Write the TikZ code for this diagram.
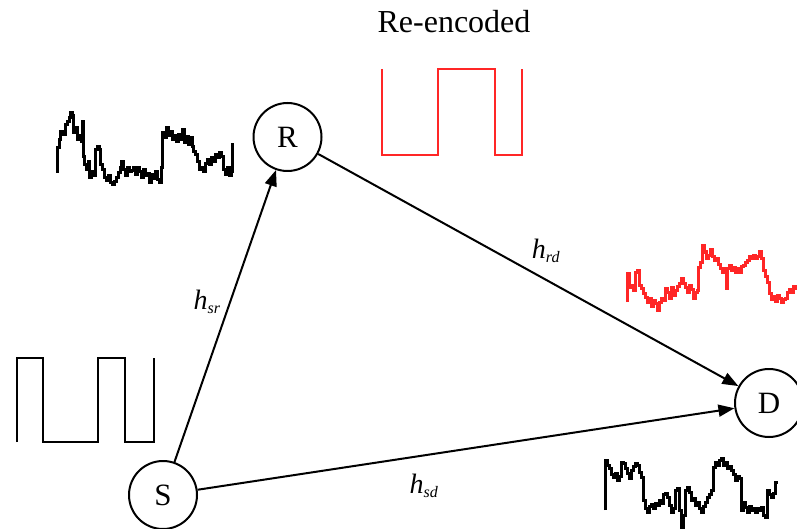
\documentclass[tikz,border=0pt]{standalone}
\usepackage{fontspec}
\setmainfont{Liberation Serif}
\usetikzlibrary{arrows.meta}
\begin{document}
\begin{tikzpicture}[x=1pt,y=-1pt,
  nd/.style={circle,draw,line width=2pt,minimum size=68pt,inner sep=0pt,font=\fontsize{31}{31}\selectfont},
  arr/.style={line width=2pt,-{Triangle[length=16pt,width=12pt]}},
  sq/.style={line width=1.8pt,line join=miter},
  sig/.style={line width=3pt,line join=miter},
  lab/.style={font=\fontsize{28}{28}\selectfont\itshape}]
\useasboundingbox (0,0) rectangle (797,529);
\node[nd] (R) at (287.5,137) {R};
\node[nd] (S) at (163,495) {S};
\node[nd] (D) at (769,403) {D};
\draw[arr] (S) -- (R);
\draw[arr] (R) -- (D);
\draw[arr] (S) -- (D);
\node[lab] (hsr) at (207,302) {h\textsubscript{\fontsize{16}{16}\selectfont sr}};
\node[lab] (hrd) at (546,251) {h\textsubscript{\fontsize{16}{16}\selectfont rd}};
\node[lab] (hsd) at (424,486) {h\textsubscript{\fontsize{16}{16}\selectfont sd}};
\node[font=\fontsize{32}{32}\selectfont] (re) at (454,22) {Re-encoded};
% black square wave
\draw[sq] (17,442) -- (17,358) -- (43,358) -- (43,442) -- (98,442) -- (98,358) -- (125,358) -- (125,442) -- (154,442) -- (154,358);
% red square wave
\draw[sq,red!85!white] (382,69) -- (382,155) -- (438,155) -- (438,69) -- (495,69) -- (495,155) -- (522,155) -- (522,69);
% black noisy top-left
\draw[sig] plot[const plot] coordinates {(57,173) (57,148) (59,140) (60,132) (63,135) (65,125) (67,122) (69,118) (70,113) (72,116) (73,133) (75,128) (77,140) (79,136) (81,142) (82,122) (83,157) (84,165) (86,170) (88,162) (89,178) (91,172) (93,176) (95,150) (97,147) (99,150) (100,165) (102,170) (104,178) (106,181) (108,176) (110,183) (112,185) (114,182) (116,178) (118,173) (120,168) (121,162) (123,170) (125,176) (127,168) (129,172) (131,171) (133,168) (135,175) (137,168) (139,172) (141,178) (143,170) (145,176) (147,174) (149,183) (151,175) (153,179) (155,172) (157,180) (159,183) (161,168) (162,133) (164,138) (166,128) (168,136) (170,132) (172,140) (174,136) (176,142) (178,135) (180,140) (182,130) (184,143) (186,137) (188,145) (190,138) (192,147) (193,152) (195,155) (197,162) (199,170) (201,168) (203,172) (205,164) (207,160) (209,165) (211,158) (213,162) (215,155) (217,158) (219,153) (221,157) (223,170) (225,175) (227,168) (229,176) (231,172) (232,143)};
% red noisy right
\draw[sig,red!85!white] plot[const plot] coordinates {(627,302) (627,273) (629,287) (631,285) (633,290) (635,272) (637,270) (639,285) (641,288) (643,293) (645,297) (647,302) (649,298) (651,306) (653,300) (655,303) (657,310) (659,302) (661,298) (663,300) (665,288) (667,292) (669,298) (671,287) (673,295) (675,290) (677,286) (679,283) (681,278) (683,283) (685,287) (687,292) (689,285) (691,289) (693,298) (695,292) (697,290) (698,267) (700,262) (702,246) (704,252) (706,258) (708,255) (710,250) (712,256) (714,260) (716,258) (718,264) (720,268) (722,272) (724,268) (726,288) (727,268) (729,265) (731,270) (733,267) (735,272) (737,268) (739,272) (741,266) (743,265) (745,262) (747,260) (749,256) (751,258) (753,255) (755,258) (757,256) (759,252) (761,258) (763,270) (765,276) (767,282) (769,293) (771,299) (773,296) (775,301) (777,295) (779,298) (781,302) (783,299) (785,298) (787,292) (789,289) (791,292) (793,286) (795,288) (797,285)};
% black noisy bottom-right
\draw[sig] plot[const plot] coordinates {(605,510) (605,460) (607,465) (609,468) (611,474) (613,477) (615,473) (617,480) (619,476) (621,462) (623,463) (625,468) (627,473) (629,478) (631,470) (633,466) (635,463) (637,465) (639,472) (641,477) (643,500) (645,508) (647,512) (649,506) (651,504) (653,508) (655,503) (657,505) (659,500) (661,503) (663,494) (665,493) (667,497) (669,505) (671,512) (673,508) (675,490) (677,488) (679,510) (681,527) (683,515) (685,490) (687,487) (689,492) (691,500) (693,498) (695,505) (697,502) (699,508) (701,512) (703,506) (705,502) (707,497) (709,494) (711,490) (713,467) (715,462) (717,465) (719,460) (721,458) (723,465) (725,462) (727,468) (729,466) (731,470) (733,474) (735,480) (737,476) (739,478) (741,510) (743,502) (745,507) (747,512) (749,506) (751,510) (753,508) (755,512) (757,508) (759,510) (761,507) (763,515) (765,517) (767,490) (769,494) (771,497) (773,493) (775,482) (778,482)};
\end{tikzpicture}
\end{document}
